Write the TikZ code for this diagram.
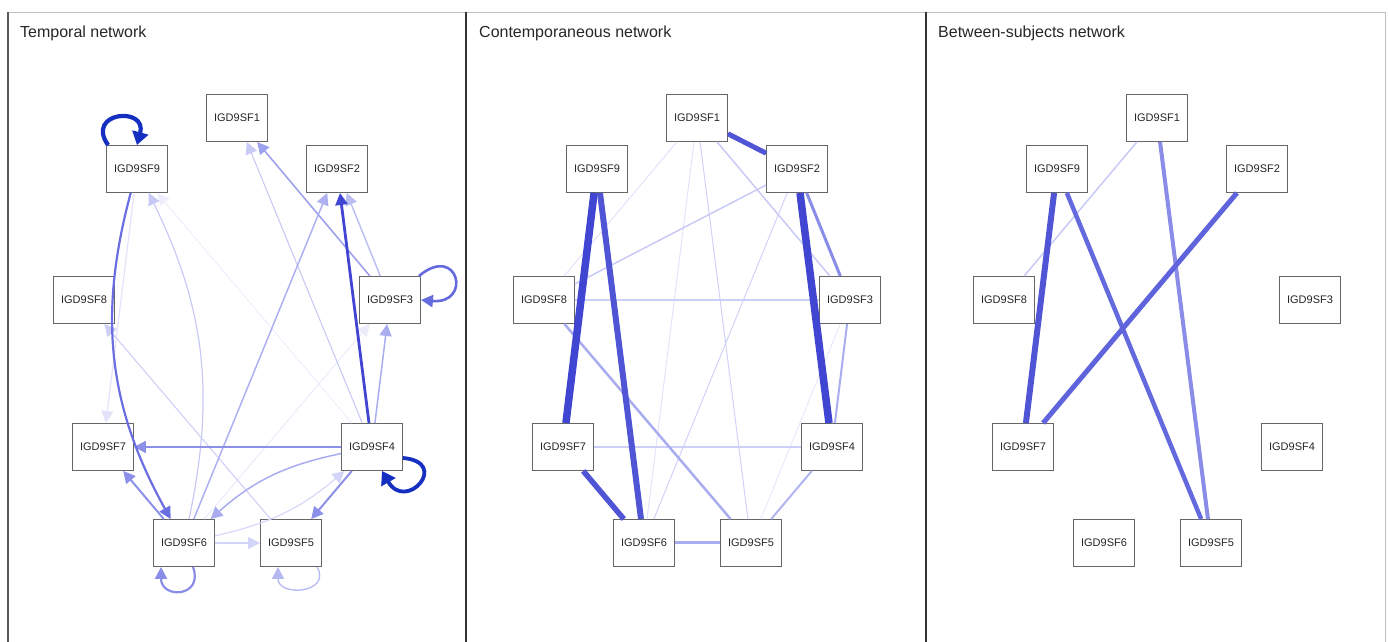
\documentclass[tikz,border=0pt]{standalone}
\usepackage{fontspec}
\setmainfont{Liberation Sans}
\usetikzlibrary{arrows.meta}
\definecolor{qdark}{HTML}{1530C0}
\definecolor{qstrong}{HTML}{4046D2}
\definecolor{qmid}{HTML}{5055D6}
\definecolor{qmed}{HTML}{6A6EE0}
\definecolor{qlite}{HTML}{8D90E8}
\definecolor{qpale}{HTML}{A9ACEF}
\definecolor{qfaint}{HTML}{C8CAF6}
\definecolor{qghost}{HTML}{E2E3FB}
\begin{document}
\begin{tikzpicture}[x=1pt, y=1pt,
  var/.style={draw=black!60, line width=0.9pt, fill=white, minimum width=61pt,
    minimum height=47pt, inner sep=0pt, font=\fontsize{11}{13}\selectfont, text=black!85},
  ttl/.style={anchor=base west, inner sep=0pt, font=\fontsize{16}{19}\selectfont, text=black!85},
  dir/.style={-{Triangle[length=12pt, width=12pt]}},
  bigdir/.style={-{Triangle[length=13pt, width=16pt]}}]
\useasboundingbox (0,0) rectangle (1389,642);
% frame
\draw[black!25, line width=0.8pt] (8,630) -- (1385,630);
\draw[black!25, line width=0.8pt] (1385,630) -- (1385,0);
\draw[black!65, line width=1.2pt] (8,630) -- (8,0);
\draw[black!80, line width=1.8pt] (466,630) -- (466,0);
\draw[black!80, line width=1.8pt] (926,630) -- (926,0);
\node[ttl] (ttemp) at (20,604) {Temporal network};
\node[ttl] (tcont) at (479,604) {Contemporaneous network};
\node[ttl] (tbetw) at (938,604) {Between-subjects network};
% temporal
\node[var] (t1) at (237,524) {IGD9SF1};
\node[var] (t2) at (337,473) {IGD9SF2};
\node[var] (t3) at (390,342) {IGD9SF3};
\node[var] (t4) at (372,195) {IGD9SF4};
\node[var] (t5) at (291,99) {IGD9SF5};
\node[var] (t6) at (184,99) {IGD9SF6};
\node[var] (t7) at (103,195) {IGD9SF7};
\node[var] (t8) at (84,342) {IGD9SF8};
\node[var] (t9) at (137,473) {IGD9SF9};
\draw[dir, qghost!60, line width=1pt](t4) -- (t9);
\draw[dir, qghost!70, line width=1pt](t6) -- (t3);
\draw[dir, qghost, line width=1.2pt](t9) -- (t7);
\draw[dir, qfaint, line width=1.2pt](t6) to[bend right=19] (t9);
\draw[dir, qfaint, line width=1.1pt](t4) -- (t1);
\draw[dir, qfaint!90, line width=1.1pt](t5) -- (t8);
\draw[dir, qlite!85, line width=1.6pt](t3) -- (t1);
\draw[dir, qpale!95, line width=1.5pt](t6) -- (t2);
\draw[dir, qpale!80, line width=1.4pt](t3) -- (t2);
\draw[dir, qstrong, line width=2.8pt](t4) -- (t2);
\draw[dir, qpale, line width=1.5pt](t4) -- (t3);
\draw[dir, qlite, line width=2pt](t4) -- (t7);
\draw[dir, qlite, line width=2pt](t6) -- (t7);
\draw[dir, qmed, line width=2.2pt](t9) to[bend right=22] (t6);
\draw[dir, qpale, line width=1.5pt](t4) to[bend right=15] (t6);
\draw[dir, qfaint!80, line width=1.5pt](t6) -- (t5);
\draw[dir, qfaint!80, line width=1.1pt](t6) to[bend right=14] (t4);
\draw[dir, qlite, line width=2pt](t4) -- (t5);
\draw[bigdir, qdark, line width=4.2pt]([xshift=2pt]t9.north west) to[out=125, in=75, looseness=3.6] (t9.north);
\draw[dir, qmed!85!qmid, line width=2.6pt]([xshift=-2pt]t3.north east) to[out=40, in=-5, looseness=5.5] (t3.east);
\draw[bigdir, qdark, line width=3.8pt]([yshift=-11pt]t4.east) to[out=-5, in=-60, looseness=5] ([xshift=10pt]t4.south);
\draw[dir, qlite!90!qmed, line width=2.2pt]([xshift=9pt]t6.south) to[out=-70, in=-90, looseness=2.6] ([xshift=-23pt]t6.south);
\draw[dir, qpale!85, line width=1.3pt]([xshift=26pt]t5.south) to[out=-60, in=-90, looseness=2] ([xshift=-13pt]t5.south);
% contemporaneous
\node[var] (c1) at (697,524) {IGD9SF1};
\node[var] (c2) at (797,473) {IGD9SF2};
\node[var] (c3) at (850,342) {IGD9SF3};
\node[var] (c4) at (832,195) {IGD9SF4};
\node[var] (c5) at (751,99) {IGD9SF5};
\node[var] (c6) at (644,99) {IGD9SF6};
\node[var] (c7) at (563,195) {IGD9SF7};
\node[var] (c8) at (544,342) {IGD9SF8};
\node[var] (c9) at (597,473) {IGD9SF9};
\draw[qghost!80, line width=1pt](c3) -- (c5);
\draw[qghost, line width=1pt](c1) -- (c6);
\draw[qghost, line width=1pt](c1) -- (c8);
\draw[qfaint!85, line width=1pt](c1) -- (c5);
\draw[qfaint!85, line width=1pt](c2) -- (c6);
\draw[qfaint, line width=1.5pt](c2) -- (c8);
\draw[qfaint, line width=1.5pt](c1) -- (c3);
\draw[qfaint!90, line width=1.5pt](c8) -- (c3);
\draw[qfaint!90, line width=1.5pt](c7) -- (c4);
\draw[qpale!90, line width=2pt](c4) -- (c5);
\draw[qpale, line width=2pt](c3) -- (c4);
\draw[qpale, line width=2.5pt](c8) -- (c5);
\draw[qpale, line width=3pt](c6) -- (c5);
\draw[qlite!90!qmed, line width=3pt](c2) -- (c3);
\draw[qmid, line width=5pt](c1) -- (c2);
\draw[qmid, line width=5.5pt](c7) -- (c6);
\draw[qmid, line width=6pt](c9) -- (c6);
\draw[qstrong, line width=7.5pt](c9) -- (c7);
\draw[qstrong, line width=7.5pt](c2) -- (c4);
% between-subjects
\node[var] (b1) at (1157,524) {IGD9SF1};
\node[var] (b2) at (1257,473) {IGD9SF2};
\node[var] (b3) at (1310,342) {IGD9SF3};
\node[var] (b4) at (1292,195) {IGD9SF4};
\node[var] (b5) at (1211,99) {IGD9SF5};
\node[var] (b6) at (1104,99) {IGD9SF6};
\node[var] (b7) at (1023,195) {IGD9SF7};
\node[var] (b8) at (1004,342) {IGD9SF8};
\node[var] (b9) at (1057,473) {IGD9SF9};
\draw[qfaint, line width=1.5pt](b1) -- (b8);
\draw[qlite!90!qmed, line width=4pt](b1) -- (b5);
\draw[qmed!80!qmid, line width=4.5pt](b9) -- (b5);
\draw[qmed!60!qmid, line width=5pt](b2) -- (b7);
\draw[qmid, line width=6pt](b9) -- (b7);
\end{tikzpicture}
\end{document}
